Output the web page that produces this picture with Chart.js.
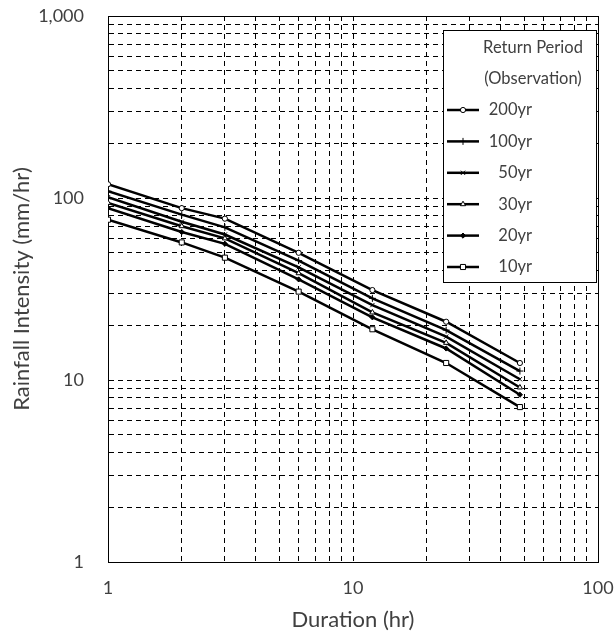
<!DOCTYPE html>
<html><head><meta charset="utf-8">
<script src="https://cdn.jsdelivr.net/npm/chart.js@4/dist/chart.umd.min.js"></script>
<style>html,body{margin:0;padding:0;background:#fff;} #wrap{width:614px;height:635px;position:relative;}</style>
</head><body>
<div id="wrap"><canvas id="c" width="614" height="635"></canvas></div>
<script>
// ---- data ----
const durations = [1, 2, 3, 6, 12, 24, 48];
const seriesLabels = ['200yr', '100yr', '50yr', '30yr', '20yr', '10yr'];
const rp200 = [119, 88, 77, 50, 31.2, 20.9, 12.4];
const rp100 = [109, 81, 69, 45.3, 28.1, 18.8, 11.2];
const rp50  = [101, 74, 63, 41.6, 25.8, 17.3, 10.1];
const rp30  = [94, 70, 60, 38.6, 23.5, 16.0, 9.1];
const rp20  = [88, 65, 56, 35.7, 22.1, 14.9, 8.3];
const rp10  = [76, 57, 47, 30.6, 19.0, 12.4, 7.1];
const xTickLabels = [1, 10, 100];
const yTickLabels = [1, 10, 100, 1000];
const legendTitle = ['Return Period', '(Observation)'];
const xTitle = 'Duration (hr)';
const yTitle = 'Rainfall Intensity (mm/hr)';

// ---- helpers ----
function logGrid(min, max) {
  const out = [];
  for (let d = min; d < max; d *= 10) for (let k = 1; k <= 9; k++) out.push(Math.round(k * d));
  out.push(max);
  return out;
}
const isPow10 = v => Math.abs(Math.log10(v) - Math.round(Math.log10(v))) < 1e-9;
const FONT = 'Lato';
const TXT = '#404040';
const dashFn = (lo, hi) => ctx => (ctx.tick && (ctx.tick.value === lo || ctx.tick.value === hi)) ? [] : [5, 4];
const fmt = v => Number(v).toLocaleString('en-US');

const seriesValues = [rp200, rp100, rp50, rp30, rp20, rp10];
const styles = [
  {pointStyle: 'circle', pointRadius: 2.6, bg: '#fff'},
  {pointStyle: 'cross', pointRadius: 3.5, bg: '#000'},
  {pointStyle: 'crossRot', pointRadius: 3, bg: '#000'},
  {pointStyle: 'triangle', pointRadius: 3, bg: '#fff'},
  {pointStyle: 'rectRot', pointRadius: 2.6, bg: '#000'},
  {pointStyle: 'rect', pointRadius: 3.6, bg: '#fff'}
];

const datasets = seriesLabels.map((lab, i) => ({
  label: lab,
  data: durations.map((d, j) => ({x: d, y: seriesValues[i][j]})),
  borderColor: '#000',
  borderWidth: 2.5,
  pointStyle: styles[i].pointStyle,
  pointRadius: styles[i].pointRadius,
  pointHoverRadius: styles[i].pointRadius,
  pointBorderWidth: 1,
  pointBorderColor: '#000',
  pointBackgroundColor: styles[i].bg,
  fill: false,
  tension: 0
}));

const legendPlugin = {
  id: 'boxLegend',
  afterDraw(chart) {
    const ctx = chart.ctx;
    const a = chart.chartArea;
    const L = a.right - 155, T = a.top + 14, W = 153, H = 252;
    ctx.save();
    ctx.fillStyle = '#fff';
    ctx.fillRect(L, T, W, H);
    ctx.strokeStyle = '#000';
    ctx.lineWidth = 1;
    ctx.setLineDash([]);
    ctx.strokeRect(Math.round(L) + 0.5, Math.round(T) + 0.5, W, H);
    ctx.fillStyle = TXT;
    ctx.font = '16.5px ' + FONT;
    ctx.textBaseline = 'middle';
    ctx.textAlign = 'center';
    ctx.fillText(legendTitle[0], L + 90, T + 18);
    ctx.fillText(legendTitle[1], L + 90, T + 49);
    chart.data.datasets.forEach((ds, i) => {
      const y = T + 80 + i * 31.4;
      ctx.strokeStyle = '#000';
      ctx.lineWidth = 2.5;
      ctx.beginPath();
      ctx.moveTo(L + 4, y);
      ctx.lineTo(L + 36, y);
      ctx.stroke();
      ctx.fillStyle = ds.pointBackgroundColor;
      ctx.strokeStyle = '#000';
      ctx.lineWidth = 1;
      if (Chart.helpers && Chart.helpers.drawPoint) {
        Chart.helpers.drawPoint(ctx, {pointStyle: ds.pointStyle, radius: ds.pointRadius, borderWidth: 1, rotation: 0}, L + 20, y);
      }
      ctx.fillStyle = TXT;
      ctx.textAlign = 'right';
      ctx.font = '16.5px ' + FONT;
      ctx.fillText(ds.label, L + 89, y);
    });
    ctx.restore();
  }
};

new Chart(document.getElementById('c'), {
  type: 'line',
  data: {datasets},
  options: {
    responsive: false,
    animation: false,
    devicePixelRatio: 1,
    layout: {padding: {top: 16, right: 16, left: 0, bottom: 0}},
    plugins: {legend: {display: false}, tooltip: {enabled: false}},
    scales: {
      x: {
        type: 'logarithmic', min: 1, max: 100,
        afterBuildTicks: s => { s.ticks = logGrid(1, 100).map(v => ({value: v, major: isPow10(v)})); },
        afterFit: s => { s.height = 73; s.paddingLeft = 0; s.paddingRight = 0; },
        ticks: {autoSkip: false, maxRotation: 0, minRotation: 0, padding: 15, color: TXT,
          font: {family: FONT, size: 18},
          callback: v => xTickLabels.includes(v) ? fmt(v) : ''},
        grid: {color: '#000', lineWidth: 1, drawTicks: false},
        border: {display: true, color: '#000', width: 1, dash: dashFn(1, 100)},
        title: {display: true, text: xTitle, color: TXT, font: {family: FONT, size: 22}, padding: {top: 0, bottom: 2}}
      },
      y: {
        type: 'logarithmic', min: 1, max: 1000,
        afterBuildTicks: s => { s.ticks = logGrid(1, 1000).map(v => ({value: v, major: isPow10(v)})); },
        afterFit: s => { s.width = 108; s.paddingTop = 0; s.paddingBottom = 0; },
        ticks: {autoSkip: false, padding: 24, color: TXT,
          font: {family: FONT, size: 18},
          callback: v => yTickLabels.includes(v) ? fmt(v) : ''},
        grid: {color: '#000', lineWidth: 1, drawTicks: false},
        border: {display: true, color: '#000', width: 1, dash: dashFn(1, 1000)},
        title: {display: true, text: yTitle, color: TXT, font: {family: FONT, size: 22}, padding: {top: 9, bottom: 0}}
      }
    }
  },
  plugins: [legendPlugin]
});
</script>
</body></html>
